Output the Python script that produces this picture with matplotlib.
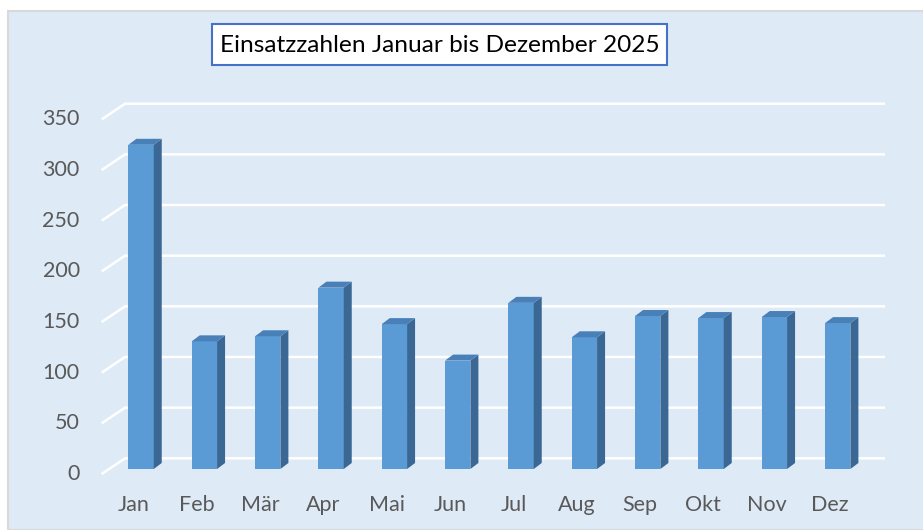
import numpy as np
import matplotlib
matplotlib.use("Agg")
import matplotlib.pyplot as plt
from matplotlib.patches import Polygon, Rectangle
from matplotlib.transforms import ScaledTranslation

months = ["Jan", "Feb", "Mär", "Apr", "Mai", "Jun", "Jul", "Aug", "Sep", "Okt", "Nov", "Dez"]
values = [320, 126, 131, 179, 143, 107, 164, 130, 151, 149, 150, 144]
yticks = [0, 50, 100, 150, 200, 250, 300, 350]
title = "Einsatzzahlen Januar bis Dezember 2025"

plt.rcParams["font.family"] = ["Lato", "DejaVu Sans"]

bg = "#DEEAF6"
front_col = "#5B9BD5"
side_col = "#3A6794"
top_col = "#4A80B8"
text_col = "#595959"

fig = plt.figure(figsize=(9.23, 5.30), dpi=100, facecolor="white")

# chart area
fig.patches.append(Rectangle((8 / 923, 0), 1, 1 - 11 / 530, transform=fig.transFigure,
                             facecolor=bg, edgecolor="#D9D9D9", linewidth=1.5, zorder=-1))

ax = fig.add_axes([109.4 / 923, 61 / 530, 760 / 923, 354.6 / 530])
ax.set_xlim(-0.5, len(months) - 0.5)
ax.set_ylim(0, 350)
ax.axis("off")


def px2data(dx, dy):
    o = ax.transData.transform((0, 0))
    return ax.transData.inverted().transform(o + np.array([dx, dy]))


bdx, bdy = px2data(15.6, 10.7)    # back wall
fdx, fdy = px2data(-7.7, -5.0)    # front edge
ddx, ddy = px2data(8, 6)          # bar depth

# gridlines (perspective)
x0, x1 = -0.5, len(months) - 0.5
for v in yticks:
    ax.plot([x0 + fdx, x0 + bdx, x1 + bdx], [v + fdy, v + bdy, v + bdy],
            color="white", lw=1.8, zorder=1, clip_on=False, solid_capstyle="butt")

# bars
w = 0.40
x = np.arange(len(months))
ax.bar(x, values, width=w, color=front_col, zorder=3)
for xi, v in zip(x, values):
    r = xi + w / 2
    l = xi - w / 2
    ax.add_patch(Polygon([(r, 0), (r + ddx, ddy), (r + ddx, v + ddy), (r, v)],
                         closed=True, facecolor=side_col, edgecolor="none", zorder=3, clip_on=False))
    ax.add_patch(Polygon([(l, v), (r, v), (r + ddx, v + ddy), (l + ddx, v + ddy)],
                         closed=True, facecolor=top_col, edgecolor="none", zorder=3, clip_on=False))

# y labels
ylab_tr = ax.transData + ScaledTranslation(-0.22, 0, fig.dpi_scale_trans)
for v in yticks:
    ax.text(x0 + fdx, v + fdy, str(v), ha="right", va="center", fontsize=15.5,
            color=text_col, transform=ylab_tr, clip_on=False)

# x labels
xlab_tr = ax.transData + ScaledTranslation(0, -0.31, fig.dpi_scale_trans)
for xi, m in zip(x, months):
    ax.text(xi + fdx, fdy, m, ha="center", va="center", fontsize=15.5,
            color=text_col, transform=xlab_tr, clip_on=False)

# title box
fig.patches.append(Rectangle((212 / 923, 1 - 65 / 530), 455 / 923, 41 / 530,
                             transform=fig.transFigure, facecolor="white",
                             edgecolor="#4472C4", linewidth=1.5, zorder=2))
fig.text(439.5 / 923, 1 - 45 / 530, title, ha="center", va="center",
         fontsize=17.6, color="black", zorder=3)

fig.savefig("out.png", dpi=100, facecolor="white")
